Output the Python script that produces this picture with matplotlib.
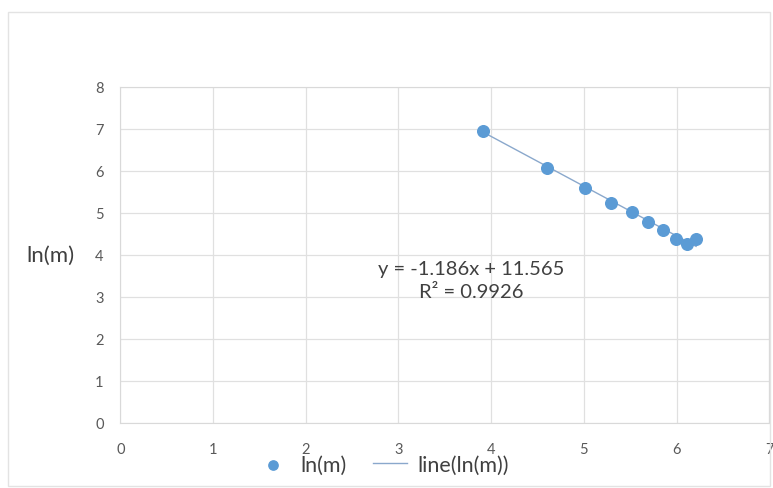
import numpy as np
import matplotlib.pyplot as plt
from matplotlib.patches import Rectangle

# data
ln_x = [3.91, 4.60, 5.01, 5.29, 5.52, 5.69, 5.85, 5.99, 6.11, 6.21]
ln_m = [6.96, 6.07, 5.60, 5.23, 5.02, 4.78, 4.59, 4.38, 4.25, 4.38]
slope = -1.186
intercept = 11.565
r_squared = 0.9926

plt.rcParams['font.family'] = ['Lato', 'DejaVu Sans']

fig = plt.figure(figsize=(7.73, 4.89), dpi=100)
ax = fig.add_axes([120.3 / 773, 1 - 423.5 / 489, (769.3 - 120.3) / 773, (423.5 - 88) / 489])

# chart area border
fig.patches.append(Rectangle((8 / 773, 2 / 489), 762 / 773, 474 / 489, transform=fig.transFigure,
                             fill=False, edgecolor='#e3e3e3', lw=1))

ax.scatter(ln_x, ln_m, s=70, color='#5B9BD5', zorder=3, label='ln(m)')
xs = np.array([ln_x[0], ln_x[-1]])
ax.plot(xs, slope * xs + intercept, color='#8aa8cc', lw=1, zorder=2, label='line(ln(m))')

ax.set_xlim(0, 7)
ax.set_ylim(0, 8)
ax.set_xticks(range(0, 8))
ax.set_yticks(range(0, 9))
ax.grid(True, color='#e0e0e0', lw=0.9)
ax.set_axisbelow(True)
for s in ax.spines.values():
    s.set_color('#d9d9d9')
ax.tick_params(length=0, labelsize=10.5, colors='#595959')
ax.tick_params(axis='x', pad=14)
ax.tick_params(axis='y', pad=12)

ax.set_ylabel('ln(m)', fontsize=16, color='#404040', rotation=0, labelpad=32, va='center')

ax.text(3.78, 3.40, f'y = {slope}x + {intercept}\nR² = {r_squared}', ha='center', va='center',
        fontsize=14.5, color='#404040', linespacing=1.4)

fig.legend(loc='center left', bbox_to_anchor=(236 / 773, 1 - 466 / 489), ncol=2, frameon=False,
           fontsize=15.5, labelcolor='#404040', handlelength=1.6, columnspacing=1.2,
           handletextpad=0.5, markerscale=0.8)

fig.savefig('out.png', dpi=100)
